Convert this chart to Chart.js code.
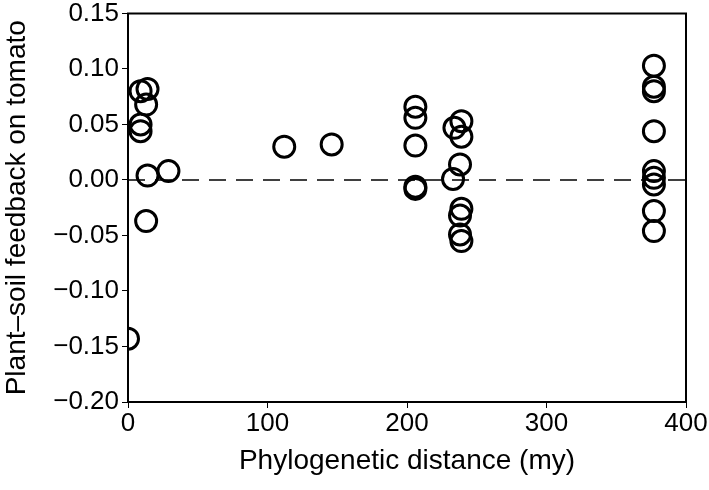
<!DOCTYPE html>
<html>
<head>
<meta charset="utf-8">
<script src="https://cdn.jsdelivr.net/npm/chart.js"></script>
<style>
  html, body { margin: 0; padding: 0; background: #fff; }
  #wrap { width: 709px; height: 490px; }
</style>
</head>
<body>
<div id="wrap"><canvas id="chart"></canvas></div>
<script>
// Phylogenetic distance (my) of each species from tomato
const distances = [0, 9, 14, 13, 9, 9, 14, 29, 13,
  112, 146,
  206, 206, 206, 206, 206,
  234, 239, 239, 238, 233, 239, 238, 238, 239,
  377, 377, 377, 377, 377, 377, 377, 377, 377];
// Plant-soil feedback on tomato
const feedback = [-0.143, 0.080, 0.082, 0.068, 0.050, 0.044, 0.004, 0.008, -0.037,
  0.030, 0.032,
  0.066, 0.056, 0.031, -0.006, -0.008,
  0.047, 0.053, 0.039, 0.014, 0.001, -0.026, -0.032, -0.049, -0.055,
  0.103, 0.084, 0.080, 0.044, 0.008, 0.002, -0.004, -0.028, -0.046];
const xTicks = [0, 100, 200, 300, 400];
const yTicks = [-0.20, -0.15, -0.10, -0.05, 0.00, 0.05, 0.10, 0.15];
const refLineX = [0, 400];
const refLineY = [0, 0];

const points = distances.map((d, i) => ({ x: d, y: feedback[i] }));
const refLine = refLineX.map((x, i) => ({ x: x, y: refLineY[i] }));

const fmt = v => {
  const s = Math.abs(v).toFixed(2);
  return (v < -1e-9 ? '\u2212' : '') + s;
};

const FONT = 'Liberation Sans, Arial, sans-serif';

// full box around the plot area
const frame = {
  id: 'frame',
  afterDraw(chart) {
    const a = chart.chartArea, c = chart.ctx;
    c.save();
    c.strokeStyle = '#000';
    c.lineWidth = 2;
    c.strokeRect(a.left, a.top, a.right - a.left, a.bottom - a.top);
    c.restore();
  }
};

new Chart(document.getElementById('chart'), {
  type: 'scatter',
  data: {
    datasets: [
      {
        type: 'line',
        data: refLine,
        borderColor: '#000',
        borderWidth: 1.5,
        borderDash: [17, 10],
        pointRadius: 0,
        fill: false,
        order: 2
      },
      {
        data: points,
        pointRadius: 10.5,
        pointHoverRadius: 10.5,
        pointBorderWidth: 3,
        pointBorderColor: '#000',
        pointBackgroundColor: 'rgba(0,0,0,0)',
        order: 1
      }
    ]
  },
  options: {
    responsive: true,
    maintainAspectRatio: false,
    animation: false,
    layout: { padding: { top: 12, right: 23, left: 0, bottom: 0 } },
    plugins: { legend: { display: false }, tooltip: { enabled: false } },
    scales: {
      x: {
        type: 'linear',
        min: 0, max: 400,
        afterBuildTicks: s => { s.ticks = xTicks.map(v => ({ value: v })); },
        afterFit: s => { s.height = 88; s.paddingLeft = 0; s.paddingRight = 0; },
        grid: { drawOnChartArea: false, color: '#000', tickLength: 6, lineWidth: 1 },
        border: { color: '#000', width: 2 },
        ticks: { color: '#000', font: { family: FONT, size: 26 }, padding: 0, maxRotation: 0 },
        title: { display: true, text: 'Phylogenetic distance (my)', color: '#000',
                 font: { family: FONT, size: 28 }, padding: { top: 0, bottom: 12 } }
      },
      y: {
        min: -0.20, max: 0.15,
        afterBuildTicks: s => { s.ticks = yTicks.map(v => ({ value: v })); },
        afterFit: s => { s.width = 128; s.paddingTop = 0; s.paddingBottom = 0; },
        grid: { drawOnChartArea: false, color: '#000', tickLength: 6, lineWidth: 1 },
        border: { color: '#000', width: 2 },
        ticks: { color: '#000', font: { family: FONT, size: 26 }, padding: 3, callback: v => fmt(v) },
        title: { display: true, text: 'Plant\u2013soil feedback on tomato', color: '#000',
                 font: { family: FONT, size: 28 }, padding: { top: 0, bottom: 0 } }
      }
    }
  },
  plugins: [frame]
});
</script>
</body>
</html>
